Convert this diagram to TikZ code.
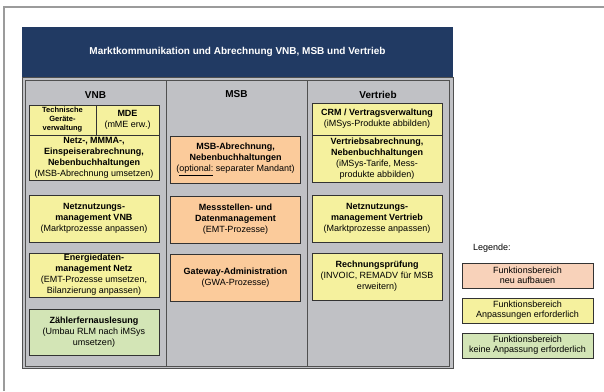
\documentclass[tikz,border=0pt]{standalone}
\usepackage{fontspec}
\setmainfont{Liberation Sans}
\usepackage{xcolor}
\usepackage{tikz}
\usetikzlibrary{positioning}
\definecolor{navy}{HTML}{213A63}
\definecolor{tablegray}{HTML}{C0C1C5}
\definecolor{colline}{HTML}{505050}
\definecolor{boxyellow}{HTML}{F5F19E}
\definecolor{boxorange}{HTML}{FBCB9B}
\definecolor{boxsalmon}{HTML}{F8D2BA}
\definecolor{boxgreen}{HTML}{D3E5B6}
\definecolor{framegray}{HTML}{9B9B9B}

\begin{document}
\begin{tikzpicture}[x=1pt, y=-1pt,
    every node/.style={font=\fontsize{9}{11}\selectfont, align=center, inner sep=1pt, outer sep=0pt},
    fb/.style={draw=black!80, line width=0.6pt, minimum width=130pt, minimum height=47pt},
    yel/.style={fb, fill=boxyellow},
    ora/.style={fb, fill=boxorange},
    grn/.style={fb, fill=boxgreen},
    colbox/.style={draw=colline, line width=0.9pt, anchor=north west, minimum height=286pt},
    colhead/.style={font=\bfseries\fontsize{10}{12}\selectfont},
    leg/.style={draw=black!80, line width=0.6pt, minimum width=131pt, minimum height=25pt, inner sep=0pt, font=\fontsize{9}{10}\selectfont}]
    \useasboundingbox (0,0) rectangle (604,391);
    \draw[framegray, line width=1.2pt] (4,391) -- (4,7) -- (604,7);
    \node[fill=navy, text=white, minimum width=431pt, minimum height=50pt, font=\bfseries\fontsize{10}{12}\selectfont] (title) at (237.5,52) {Marktkommunikation und Abrechnung VNB, MSB und Vertrieb};
    \node[fill=tablegray, draw=colline, line width=0.6pt, minimum width=431pt, minimum height=291pt, anchor=north] (table) at (title.south) {};
    \node[colbox, minimum width=141pt] (colvnb) at (25,80) {};
    \node[colbox, minimum width=141pt, right=0pt of colvnb] (colmsb) {};
    \node[colbox, minimum width=142pt, right=0pt of colmsb] (colvt) {};
    \node[colhead] (hvnb) at (95.5,95) {VNB};
    \node[colhead] (hmsb) at (236.5,94) {MSB};
    \node[colhead] (hvt) at (378,95) {Vertrieb};

    \node[yel, minimum width=67pt, minimum height=30pt, font=\bfseries\fontsize{7.5}{9}\selectfont, anchor=north west] (tech) at (29,105) {Technische\\Geräte-\\verwaltung};
    \node[yel, minimum width=63pt, minimum height=30pt, right=0pt of tech] (mde) {\textbf{MDE}\\(mME erw.)};
    \node[yel, minimum height=45pt, below=0pt of tech.south west, anchor=north west] (netz) {\textbf{Netz-, MMMA-,}\\\textbf{Einspeiserabrechnung,}\\\textbf{Nebenbuchhaltungen}\\(MSB-Abrechnung umsetzen)};
    \node[yel, below=15pt of netz] (nnvnb) {\textbf{Netznutzungs-}\\\textbf{management VNB}\\(Marktprozesse anpassen)};
    \node[yel, minimum height=44pt, below=11pt of nnvnb] (edm) {\textbf{Energiedaten-}\\\textbf{management Netz}\\(EMT-Prozesse umsetzen,\\Bilanzierung anpassen)};
    \node[grn, minimum height=46pt, below=12pt of edm] (zfa) {\textbf{Zählerfernauslesung}\\(Umbau RLM nach iMSys\\umsetzen)};

    \node[ora, anchor=north] (msbab) at (235.5,136) {\textbf{MSB-Abrechnung,}\\\textbf{Nebenbuchhaltungen}\\(\underline{optional:} separater Mandant)};
    \node[ora, below=13pt of msbab] (mdm) {\textbf{Messstellen- und}\\\textbf{Datenmanagement}\\(EMT-Prozesse)};
    \node[ora, below=11pt of mdm] (gwa) {\textbf{Gateway-Administration}\\(GWA-Prozesse)};

    \node[yel, minimum height=32pt, anchor=north] (crm) at (377,103) {\textbf{CRM / Vertragsverwaltung}\\(iMSys-Produkte abbilden)};
    \node[yel, below=0pt of crm] (vab) {\textbf{Vertriebsabrechnung,}\\\textbf{Nebenbuchhaltungen}\\(iMSys-Tarife, Mess-\\produkte abbilden)};
    \node[yel, below=13pt of vab] (nnvt) {\textbf{Netznutzungs-}\\\textbf{management Vertrieb}\\(Marktprozesse anpassen)};
    \node[yel, below=11pt of nnvt] (rp) {\textbf{Rechnungsprüfung}\\(INVOIC, REMADV für MSB\\erweitern)};

    \node[anchor=west] (legtitle) at (472,248) {Legende:};
    \node[leg, fill=boxsalmon, anchor=north west] (legneu) at (462,263) {Funktionsbereich\\neu aufbauen};
    \node[leg, fill=boxyellow, below=10pt of legneu] (leganp) {Funktionsbereich\\Anpassungen erforderlich};
    \node[leg, fill=boxgreen, below=10pt of leganp] (legkeine) {Funktionsbereich\\keine Anpassung erforderlich};
\end{tikzpicture}
\end{document}
